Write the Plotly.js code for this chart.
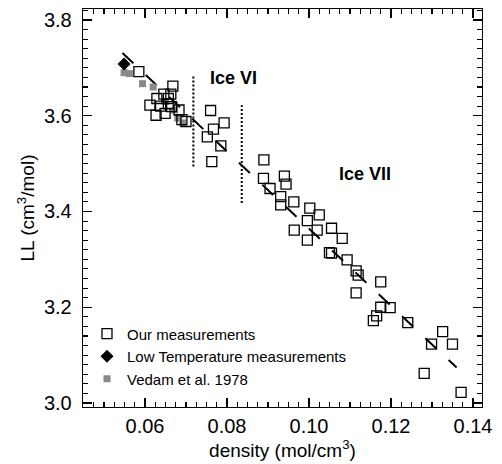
<!DOCTYPE html>
<html>
<head>
<meta charset="utf-8">
<script src="https://cdn.plot.ly/plotly-3.0.1.min.js"></script>
<style>html,body{margin:0;padding:0;background:#fff;}#chart{width:502px;height:464px;}</style>
</head>
<body>
<div id="chart"></div>
<script>
// Our measurements (density mol/cm3, LL cm3/mol)
var ourX = [0.0585,0.0668,0.0629,0.0646,0.0663,0.0657,0.0612,0.0627,0.0649,0.0665,0.0683,0.0638,0.0657,0.0700,0.0690,
            0.0760,0.0793,0.0767,0.0752,0.0785,0.0763,
            0.0890,0.0889,0.0905,0.0940,0.0944,0.0931,0.0931,0.0963,0.1002,0.1025,0.0996,0.0964,0.1020,0.0996,0.1055,0.1081,
            0.1050,0.1055,0.1093,0.1115,0.1120,0.1175,0.1115,0.1165,0.1157,0.1175,0.1198,0.1241,0.1326,0.1299,0.1350,0.1281,0.1371];
var ourY = [3.692,3.662,3.636,3.645,3.645,3.636,3.622,3.601,3.605,3.619,3.612,3.620,3.625,3.588,3.592,
            3.611,3.585,3.572,3.556,3.537,3.504,
            3.508,3.469,3.448,3.474,3.457,3.431,3.414,3.420,3.407,3.393,3.381,3.361,3.361,3.340,3.365,3.344,
            3.314,3.313,3.299,3.276,3.267,3.253,3.230,3.182,3.172,3.200,3.199,3.168,3.149,3.123,3.123,3.062,3.022];
// Low temperature measurement
var lowX = [0.0549];
var lowY = [3.708];
// Vedam et al. 1978
var vedX = [0.0549,0.0562,0.0594,0.0620,0.0650,0.0672,0.0680,0.0692];
var vedY = [3.690,3.688,3.667,3.660,3.630,3.612,3.595,3.585];
// Linear fit
var fitX = [0.0545,0.1360];
var fitY = [3.731,3.074];
// Phase boundaries (dotted)
var b1X = [0.0718,0.0718], b1Y = [3.494,3.683];
var b2X = [0.0836,0.0836], b2Y = [3.418,3.622];
// Labels
var labText = ['Ice VI','Ice VII'];
var labX = [0.0817,0.1137];
var labY = [3.679,3.478];

var FONT = 'Liberation Sans, Arial, Helvetica, sans-serif';

var traces = [
  {x: fitX, y: fitY, mode:'lines', line:{color:'#000', width:2, dash:'15px,17px'}, showlegend:false, hoverinfo:'skip'},
  {x: b1X, y: b1Y, mode:'lines', line:{color:'#000', width:2, dash:'2px,2px'}, showlegend:false},
  {x: b2X, y: b2Y, mode:'lines', line:{color:'#000', width:2, dash:'2px,2px'}, showlegend:false},
  {x: vedX, y: vedY, mode:'markers', name:'Vedam et al. 1978', legendrank:3, marker:{symbol:'square', size:7, color:'#8a8a8a', line:{width:0}}},
  {x: ourX, y: ourY, mode:'markers', name:'Our measurements', legendrank:1, marker:{symbol:'square-open', size:10, color:'#000', line:{width:1.3, color:'#000'}}},
  {x: lowX, y: lowY, mode:'markers', name:'Low Temperature measurements', legendrank:2, marker:{symbol:'diamond', size:10, color:'#000'}}
];

var annotations = labText.map(function(t,i){
  return {x: labX[i], y: labY[i], xref:'x', yref:'y', text:'<b>'+t+'</b>', showarrow:false,
          font:{family:FONT, size:18, color:'#000'}, xanchor:'center', yanchor:'middle'};
});

var layout = {
  width:502, height:464,
  margin:{l:83, r:20, t:9, b:57, pad:0},
  paper_bgcolor:'#fff', plot_bgcolor:'#fff',
  font:{family:FONT, color:'#000'},
  showlegend:true,
  legend:{x:0.01, y:0.225, xanchor:'left', yanchor:'top', bgcolor:'rgba(0,0,0,0)', font:{family:FONT, size:15, color:'#000'},
          traceorder:'normal', itemwidth:30},
  xaxis:{range:[0.04488,0.1422], showgrid:false, zeroline:false, showline:true, linecolor:'#000', linewidth:1.3, mirror:'allticks',
         ticks:'inside', ticklen:9, tickwidth:1.3, tickcolor:'#000', tickvals:[0.06,0.08,0.10,0.12,0.14],
         ticktext:['0.06','0.08','0.10','0.12','0.14'],
         tickfont:{family:FONT, size:20}, ticklabelstandoff:1,
         minor:{ticks:'inside', ticklen:5, tickwidth:1.1, tickcolor:'#000', dtick:0.0025, tick0:0.06, showgrid:false},
         title:{text:'density (mol/cm<sup>3</sup>)', font:{family:FONT, size:19}, standoff:0}},
  yaxis:{range:[2.9916,3.823], showgrid:false, zeroline:false, showline:true, linecolor:'#000', linewidth:1.3, mirror:'allticks',
         ticks:'inside', ticklen:9, tickwidth:1.3, tickcolor:'#000', tickvals:[3.0,3.2,3.4,3.6,3.8],
         ticktext:['3.0','3.2','3.4','3.6','3.8'],
         tickfont:{family:FONT, size:20}, ticklabelstandoff:6,
         minor:{ticks:'inside', ticklen:5, tickwidth:1.1, tickcolor:'#000', dtick:0.02, tick0:3.0, showgrid:false},
         title:{text:'LL (cm<sup>3</sup>/mol)', font:{family:FONT, size:19}, standoff:4}},
  annotations: annotations
};

Plotly.newPlot('chart', traces, layout, {displayModeBar:false, staticPlot:true});
</script>
</body>
</html>
